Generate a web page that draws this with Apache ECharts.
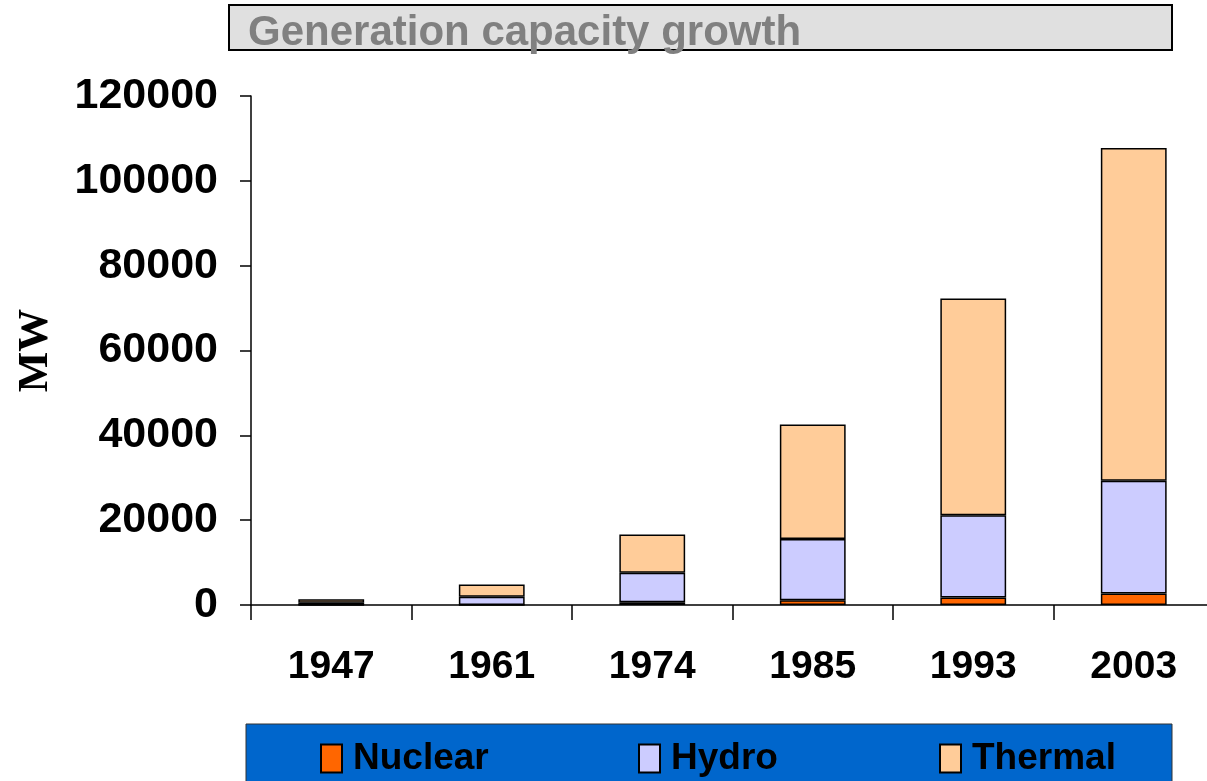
<!DOCTYPE html>
<html>
<head>
<meta charset="utf-8">
<script src="https://cdn.jsdelivr.net/npm/echarts@6/dist/echarts.min.js"></script>
<style>html,body{margin:0;padding:0;background:#fff;overflow:hidden;}#c{width:1214px;height:781px;}</style>
</head>
<body>
<div id="c"></div>
<script>
var years = ['1947', '1961', '1974', '1985', '1993', '2003'];
var nuclear = [0, 0, 640, 1095, 1785, 2720];
var hydro = [508, 1917, 6966, 14460, 19400, 26600];
var thermal = [860, 2900, 9000, 27000, 51100, 78400];
var yTicks = [0, 20000, 40000, 60000, 80000, 100000, 120000];

var chart = echarts.init(document.getElementById('c'));
var font = '"Liberation Sans", Arial, sans-serif';
function mk(name, data, color) {
  return {
    name: name, type: 'bar', stack: 'total', data: data, barWidth: '41%',
    itemStyle: { color: color, borderColor: '#000', borderWidth: 1.5 },
    emphasis: { disabled: true }
  };
}
function lg(name, left) {
  return {
    data: [name], left: left, top: 740, itemWidth: 21, itemHeight: 28, itemGap: 0,
    padding: 0, icon: 'rect',
    textStyle: { fontFamily: font, fontWeight: 'bold', fontSize: 37, color: '#000', padding: [0, 0, 0, 6] }
  };
}
chart.setOption({
  animation: false,
  title: {
    text: 'Generation capacity growth', left: 243, top: 7,
    textStyle: { fontFamily: font, fontWeight: 'bold', fontSize: 42, color: '#808080' }
  },
  graphic: [
    { type: 'rect', z: -1, shape: { x: 229, y: 5, width: 943, height: 45 },
      style: { fill: '#e0e0e0', stroke: '#000', lineWidth: 2 } },
    { type: 'rect', z: -1, shape: { x: 246, y: 724, width: 926, height: 60 },
      style: { fill: '#0066CC', stroke: '#333', lineWidth: 1 } }
  ],
  legend: [lg('Nuclear', 320), lg('Hydro', 638), lg('Thermal', 939)],
  grid: { left: 251, top: 96, width: 963, height: 509 },
  xAxis: {
    type: 'category', data: years,
    axisLine: { lineStyle: { color: '#000', width: 1.5 } },
    axisTick: { show: true, length: 15, alignWithLabel: false, lineStyle: { color: '#000', width: 1.5 } },
    axisLabel: { margin: 43, fontFamily: font, fontWeight: 'bold', fontSize: 39, color: '#000' }
  },
  yAxis: {
    type: 'value', min: 0, max: 120000, interval: 20000,
    name: 'MW', nameLocation: 'middle', nameGap: 194, nameRotate: 90,
    nameTextStyle: { fontFamily: '"Liberation Serif", "Times New Roman", serif', fontWeight: 'bold', fontSize: 43, color: '#000' },
    axisLine: { show: true, lineStyle: { color: '#000', width: 1.5 } },
    axisTick: { show: true, length: 11, lineStyle: { color: '#000', width: 1.5 } },
    splitLine: { show: false },
    axisLabel: {
      margin: 33, fontFamily: font, fontWeight: 'bold', fontSize: 43, color: '#000',
      padding: [6, 0, 0, 0],
      formatter: function (v) { return yTicks.indexOf(v) >= 0 ? String(v) : ''; }
    }
  },
  series: [mk('Nuclear', nuclear, '#FF6600'), mk('Hydro', hydro, '#CCCCFF'), mk('Thermal', thermal, '#FFCC99')]
});
</script>
</body>
</html>
